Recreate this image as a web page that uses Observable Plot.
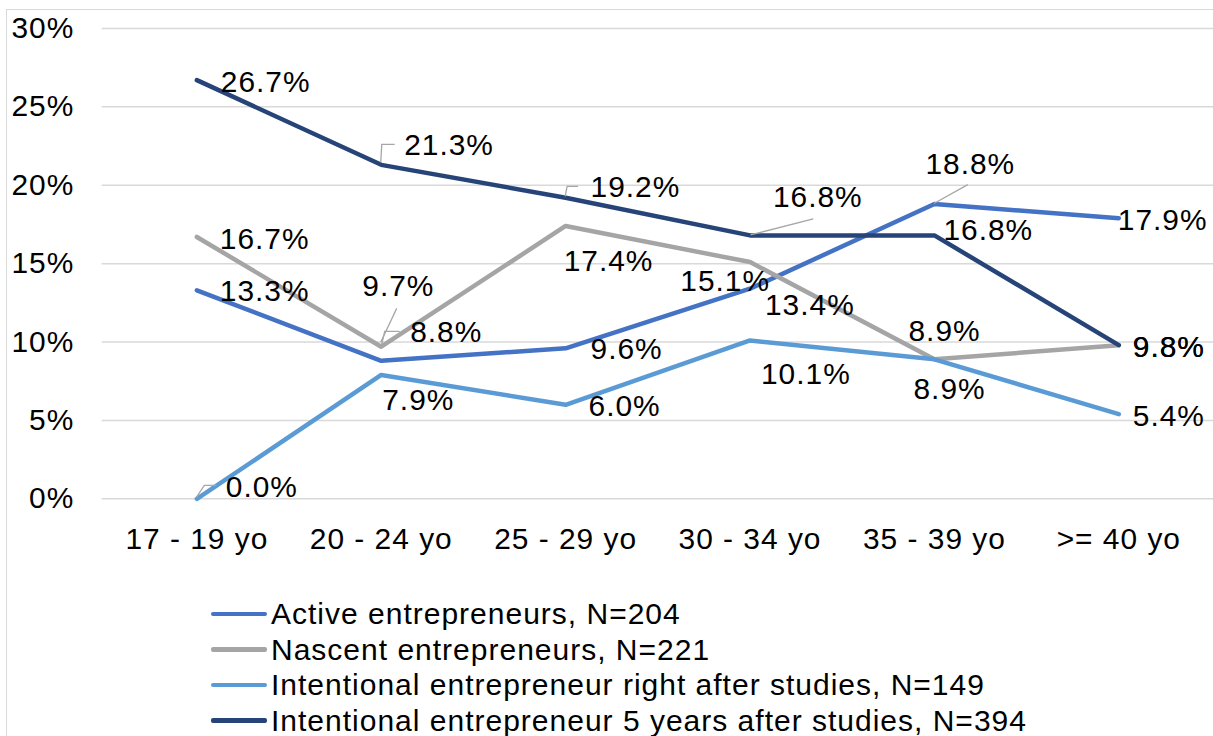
<!DOCTYPE html>
<html>
<head>
<meta charset="utf-8">
<script src="https://cdn.jsdelivr.net/npm/d3@7"></script>
<script src="https://cdn.jsdelivr.net/npm/@observablehq/plot@0.6"></script>
<style>
  html, body { margin: 0; padding: 0; background: #fff; overflow: hidden; width: 1213px; height: 736px; }
  #wrap { position: relative; width: 1213px; height: 736px; overflow: hidden; font-family: "Liberation Sans", Arial, sans-serif; }
  #border { position: absolute; left: 6px; top: 9px; width: 1400px; height: 900px; border: 1.5px solid #d9d9d9; box-sizing: border-box; }
  #chart { position: absolute; left: 0; top: 0; }
  #chart svg text { letter-spacing: 1px; }
  #legend { position: absolute; left: 211px; top: 596px; font-size: 30px; color: #000; letter-spacing: 1px; }
  .row { display: flex; align-items: center; height: 35.5px; line-height: 35.5px; white-space: nowrap; }
  .sw { display: inline-block; width: 56px; height: 4.5px; border-radius: 2px; margin-right: 4px; }
</style>
</head>
<body>
<div id="wrap">
  <div id="border"></div>
  <div id="chart"></div>
  <div id="legend"></div>
</div>
<script>
// ---- data ----
const ages = ["17 - 19 yo", "20 - 24 yo", "25 - 29 yo", "30 - 34 yo", "35 - 39 yo", ">= 40 yo"];
const seriesNames = [
  "Active entrepreneurs, N=204",
  "Nascent entrepreneurs, N=221",
  "Intentional entrepreneur right after studies, N=149",
  "Intentional entrepreneur 5 years after studies, N=394"
];
const activeValues = [13.3, 8.8, 9.6, 13.4, 18.8, 17.9];
const nascentValues = [16.7, 9.7, 17.4, 15.1, 8.9, 9.8];
const rightAfterValues = [0.0, 7.9, 6.0, 10.1, 8.9, 5.4];
const fiveYearsValues = [26.7, 21.3, 19.2, 16.8, 16.8, 9.8];
const yTicks = [0, 5, 10, 15, 20, 25, 30];

// ---- styles / layout (not data) ----
const seriesColors = ["#4472C4", "#A5A5A5", "#5B9BD5", "#264478"];
// label offsets in px [dx, dy] relative to each point, per series
const labelOffsets = [
  [[23, 1], [29, -29], [25, 1], [15, 17], [-9, -40], [-1, 2]],
  [[23, 2], [-19, -61], [-2, 36], [-70, 19], [-26, -28], [14, 2]],
  [[29, -11], [1, 26], [23, 2], [11, 34], [-21, 30], [14, 2]],
  [[24, 2], [23, -19], [25, -10], [23, -38], [9, -5], [14, 2]]
];
// leader lines: [seriesIndex, ageIndex, pixel path offsets]
const leaders = [
  [3, 1, [[0, -2], [1, -20], [14, -20]]],
  [3, 2, [[0, -1], [2, -11], [13, -11]]],
  [3, 3, [[1, 0], [64, -16]]],
  [0, 4, [[0, 0], [34, -19]]],
  [1, 1, [[0, -4], [16, -38]]],
  [0, 1, [[0, -12], [4, -29], [19, -29]]],
  [2, 0, [[0, -1], [8, -13], [20, -13]]]
];

const allValues = [activeValues, nascentValues, rightAfterValues, fiveYearsValues];
const rows = [];
allValues.forEach((vals, si) => vals.forEach((v, ai) => rows.push({series: seriesNames[si], si, ai, age: ages[ai], value: v})));

const labelMarks = rows.map(r => Plot.text([r], {
  x: "age", y: "value", text: d => d.value.toFixed(1) + "%",
  textAnchor: "start", lineAnchor: "middle", fontSize: 30, fill: "#000",
  dx: labelOffsets[r.si][r.ai][0], dy: labelOffsets[r.si][r.ai][1]
}));

const leaderMark = (index, scales) => {
  const g = d3.create("svg:g").attr("fill", "none").attr("stroke", "#A6A6A6").attr("stroke-width", 1.3);
  for (const [si, ai, pts] of leaders) {
    const px = scales.x(ages[ai]);
    const py = scales.y(allValues[si][ai]);
    g.append("path").attr("d", "M" + pts.map(([dx, dy]) => (px + dx) + "," + (py + dy)).join("L"));
  }
  return g.node();
};

const chart = Plot.plot({
  width: 1217,
  height: 560,
  marginLeft: 102,
  marginRight: 0,
  marginTop: 28,
  marginBottom: 60,
  style: {fontFamily: "'Liberation Sans', Arial, sans-serif", fontSize: "30px", color: "#000", background: "transparent", overflow: "visible"},
  x: {type: "point", domain: ages, padding: 0.5},
  y: {domain: [0, 30]},
  color: {domain: seriesNames, range: seriesColors},
  marks: [
    Plot.gridY(yTicks, {stroke: "#D9D9D9", strokeOpacity: 1, strokeWidth: 1.5}),
    Plot.axisY(yTicks, {tickFormat: d => d + "%", tickSize: 0, tickPadding: 28, fontSize: 30, label: null}),
    Plot.axisX({tickSize: 0, tickPadding: 29, fontSize: 30, label: null}),
    Plot.line(rows, {x: "age", y: "value", z: "series", stroke: "series", strokeWidth: 4.5, strokeLinecap: "round", strokeLinejoin: "round"}),
    leaderMark,
    ...labelMarks
  ]
});
document.getElementById("chart").appendChild(chart);

const legend = d3.select("#legend");
seriesNames.forEach((name, i) => {
  const row = legend.append("div").attr("class", "row");
  row.append("span").attr("class", "sw").style("background", seriesColors[i]);
  row.append("span").text(name);
});
</script>
</body>
</html>
